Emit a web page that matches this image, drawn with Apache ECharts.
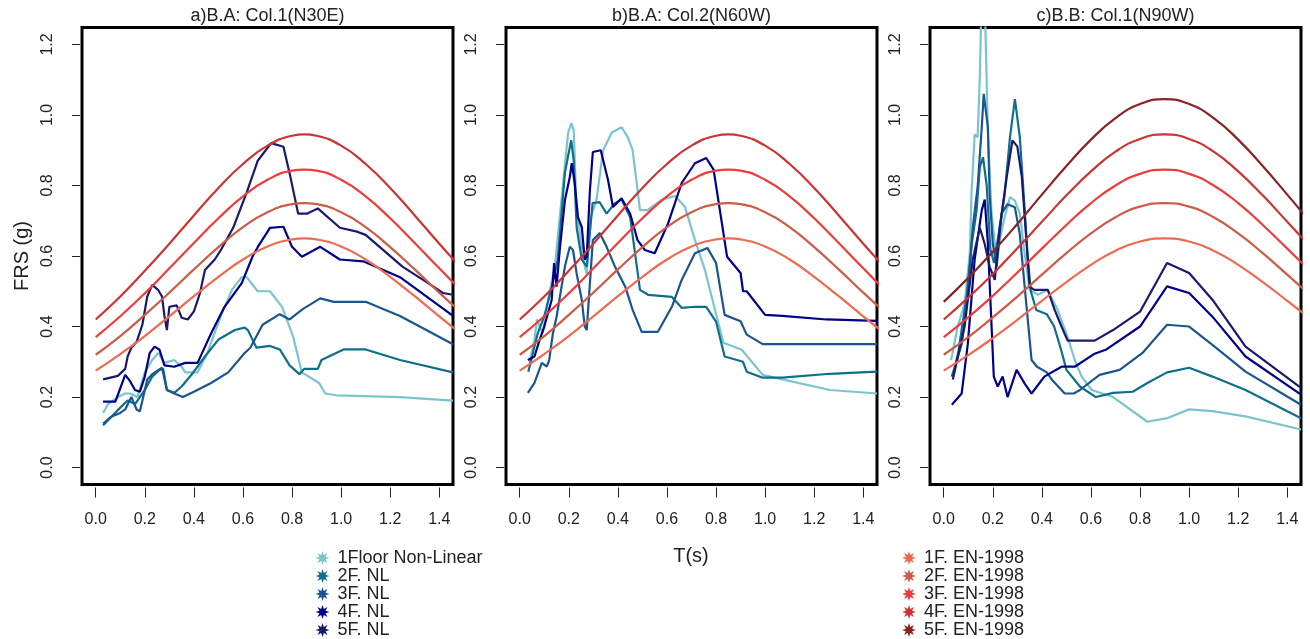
<!DOCTYPE html>
<html><head><meta charset="utf-8">
<script src="https://cdn.jsdelivr.net/npm/echarts@6/dist/echarts.min.js"></script>
<style>html,body{margin:0;padding:0;background:#fff}#c{width:1310px;height:639px}</style>
</head><body><div id="c"></div>
<script>
// ---------- DATA ----------
const titles = ['a)B.A: Col.1(N30E)', 'b)B.A: Col.2(N60W)', 'c)B.B: Col.1(N90W)'];
const xTicks = [0, 0.2, 0.4, 0.6, 0.8, 1.0, 1.2, 1.4];
const yTicks = [0, 0.2, 0.4, 0.6, 0.8, 1.0, 1.2];
const nlNames = ['1Floor Non-Linear', '2F. NL', '3F. NL', '4F. NL', '5F. NL'];
const enNames = ['1F. EN-1998', '2F. EN-1998', '3F. EN-1998', '4F. EN-1998', '5F. EN-1998'];

// Panel a : non-linear floor spectra [T, FRS]
const a_NL1 = [[0.03,0.155],[0.05,0.18],[0.09,0.20],[0.12,0.21],[0.14,0.21],[0.17,0.20],[0.20,0.27],[0.23,0.305],[0.255,0.325],[0.28,0.297],[0.32,0.305],[0.35,0.286],[0.365,0.27],[0.415,0.27],[0.455,0.325],[0.51,0.43],[0.555,0.504],[0.595,0.54],[0.615,0.54],[0.66,0.50],[0.71,0.50],[0.76,0.455],[0.805,0.37],[0.84,0.27],[0.91,0.24],[0.935,0.21],[0.98,0.205],[1.24,0.20],[1.456,0.19]];
const a_NL2 = [[0.03,0.125],[0.065,0.145],[0.10,0.17],[0.13,0.19],[0.16,0.18],[0.20,0.22],[0.23,0.258],[0.26,0.277],[0.275,0.28],[0.29,0.22],[0.32,0.212],[0.35,0.23],[0.39,0.263],[0.445,0.315],[0.50,0.363],[0.567,0.39],[0.607,0.397],[0.62,0.39],[0.655,0.34],[0.71,0.345],[0.75,0.335],[0.79,0.29],[0.83,0.265],[0.85,0.28],[0.905,0.28],[0.92,0.305],[1.01,0.335],[1.10,0.335],[1.24,0.305],[1.456,0.27]];
const a_NL3 = [[0.03,0.12],[0.065,0.145],[0.10,0.155],[0.12,0.165],[0.145,0.20],[0.167,0.164],[0.18,0.16],[0.21,0.25],[0.23,0.265],[0.27,0.283],[0.29,0.22],[0.32,0.21],[0.355,0.20],[0.40,0.215],[0.47,0.24],[0.54,0.27],[0.607,0.325],[0.63,0.34],[0.68,0.405],[0.75,0.435],[0.79,0.42],[0.845,0.45],[0.915,0.48],[0.97,0.47],[1.10,0.47],[1.24,0.43],[1.456,0.35]];
const a_NL4 = [[0.03,0.187],[0.08,0.187],[0.12,0.263],[0.14,0.245],[0.16,0.22],[0.18,0.215],[0.20,0.258],[0.22,0.325],[0.24,0.343],[0.26,0.334],[0.28,0.29],[0.32,0.286],[0.365,0.297],[0.415,0.297],[0.47,0.38],[0.525,0.456],[0.595,0.523],[0.64,0.60],[0.66,0.625],[0.71,0.68],[0.765,0.683],[0.80,0.626],[0.84,0.598],[0.915,0.626],[0.995,0.59],[1.09,0.585],[1.24,0.54],[1.456,0.43]];
const a_NL5 = [[0.03,0.25],[0.09,0.26],[0.12,0.28],[0.13,0.315],[0.145,0.34],[0.167,0.357],[0.19,0.405],[0.21,0.485],[0.23,0.518],[0.255,0.503],[0.27,0.485],[0.28,0.43],[0.29,0.39],[0.30,0.456],[0.33,0.46],[0.35,0.425],[0.375,0.42],[0.40,0.443],[0.425,0.495],[0.445,0.56],[0.465,0.575],[0.485,0.59],[0.51,0.617],[0.56,0.68],[0.615,0.78],[0.66,0.87],[0.715,0.92],[0.765,0.91],[0.79,0.835],[0.825,0.72],[0.86,0.72],[0.905,0.735],[0.995,0.68],[1.06,0.67],[1.10,0.66],[1.25,0.57],[1.35,0.525],[1.415,0.495],[1.456,0.49]];

// Panel b
const b_NL1 = [[0.04,0.297],[0.06,0.362],[0.07,0.42],[0.093,0.38],[0.115,0.475],[0.143,0.57],[0.17,0.76],[0.197,0.948],[0.21,0.977],[0.22,0.957],[0.23,0.76],[0.245,0.665],[0.265,0.57],[0.273,0.55],[0.29,0.71],[0.313,0.76],[0.34,0.90],[0.375,0.95],[0.415,0.965],[0.44,0.937],[0.46,0.90],[0.49,0.73],[0.52,0.73],[0.58,0.76],[0.633,0.77],[0.673,0.74],[0.714,0.645],[0.755,0.56],[0.775,0.504],[0.83,0.354],[0.905,0.334],[0.99,0.263],[1.07,0.25],[1.265,0.22],[1.456,0.21]];
const b_NL2 = [[0.035,0.272],[0.073,0.38],[0.10,0.43],[0.13,0.51],[0.155,0.59],[0.184,0.835],[0.196,0.88],[0.21,0.928],[0.22,0.87],[0.232,0.68],[0.253,0.59],[0.273,0.57],[0.297,0.75],[0.325,0.753],[0.354,0.72],[0.388,0.75],[0.415,0.76],[0.45,0.71],[0.49,0.504],[0.523,0.49],[0.62,0.484],[0.66,0.453],[0.714,0.456],[0.76,0.456],[0.80,0.414],[0.835,0.315],[0.91,0.30],[0.925,0.272],[0.99,0.255],[1.07,0.255],[1.265,0.266],[1.456,0.272]];
const b_NL3 = [[0.033,0.212],[0.06,0.24],[0.09,0.297],[0.11,0.286],[0.12,0.305],[0.135,0.38],[0.15,0.427],[0.184,0.57],[0.204,0.626],[0.217,0.617],[0.232,0.55],[0.253,0.475],[0.265,0.40],[0.273,0.39],[0.286,0.523],[0.298,0.645],[0.326,0.665],[0.354,0.626],[0.388,0.57],[0.43,0.513],[0.46,0.447],[0.497,0.385],[0.563,0.385],[0.62,0.456],[0.66,0.532],[0.714,0.608],[0.765,0.623],[0.80,0.58],[0.835,0.433],[0.90,0.415],[0.925,0.377],[0.99,0.35],[1.456,0.35]];
const b_NL4 = [[0.033,0.305],[0.06,0.315],[0.08,0.36],[0.10,0.40],[0.13,0.475],[0.14,0.58],[0.15,0.513],[0.163,0.617],[0.184,0.758],[0.204,0.824],[0.212,0.863],[0.224,0.807],[0.237,0.71],[0.253,0.682],[0.265,0.59],[0.273,0.597],[0.286,0.787],[0.298,0.895],[0.33,0.90],[0.36,0.815],[0.38,0.739],[0.415,0.764],[0.45,0.72],[0.48,0.645],[0.51,0.617],[0.55,0.608],[0.605,0.693],[0.66,0.807],[0.714,0.863],[0.76,0.878],[0.79,0.845],[0.845,0.598],[0.90,0.552],[0.91,0.50],[0.925,0.50],[1.0,0.433],[1.07,0.43],[1.25,0.42],[1.456,0.416]];

// Panel c
const c_NL1 = [[0.03,0.305],[0.057,0.40],[0.085,0.465],[0.106,0.605],[0.113,0.775],[0.126,0.945],[0.138,0.937],[0.147,1.107],[0.153,1.30],[0.168,1.30],[0.18,0.945],[0.195,0.72],[0.216,0.59],[0.228,0.645],[0.248,0.71],[0.27,0.767],[0.29,0.757],[0.31,0.72],[0.33,0.605],[0.35,0.504],[0.383,0.49],[0.424,0.504],[0.464,0.447],[0.505,0.37],[0.534,0.305],[0.562,0.258],[0.603,0.22],[0.69,0.20],[0.83,0.13],[0.91,0.14],[1.0,0.165],[1.095,0.16],[1.23,0.145],[1.456,0.108]];
const c_NL2 = [[0.037,0.258],[0.06,0.33],[0.094,0.49],[0.114,0.634],[0.134,0.73],[0.147,0.852],[0.16,0.88],[0.175,0.80],[0.19,0.62],[0.205,0.58],[0.228,0.68],[0.248,0.775],[0.27,0.937],[0.29,1.045],[0.31,0.937],[0.322,0.815],[0.342,0.60],[0.355,0.50],[0.377,0.447],[0.42,0.435],[0.45,0.40],[0.48,0.33],[0.50,0.277],[0.555,0.23],[0.62,0.20],[0.69,0.212],[0.77,0.215],[0.83,0.24],[0.91,0.27],[1.0,0.283],[1.095,0.258],[1.23,0.22],[1.456,0.14]];
const c_NL3 = [[0.033,0.258],[0.073,0.35],[0.098,0.49],[0.118,0.68],[0.138,0.795],[0.155,0.965],[0.163,1.06],[0.18,0.965],[0.187,0.775],[0.20,0.634],[0.216,0.57],[0.236,0.72],[0.26,0.747],[0.29,0.738],[0.31,0.662],[0.33,0.512],[0.358,0.305],[0.38,0.286],[0.42,0.27],[0.44,0.25],[0.493,0.21],[0.53,0.21],[0.555,0.22],[0.635,0.263],[0.717,0.277],[0.81,0.325],[0.91,0.405],[1.0,0.40],[1.095,0.348],[1.23,0.272],[1.456,0.178]];
const c_NL4 = [[0.033,0.178],[0.073,0.21],[0.098,0.35],[0.126,0.59],[0.155,0.73],[0.167,0.76],[0.18,0.634],[0.195,0.40],[0.204,0.258],[0.22,0.23],[0.24,0.258],[0.26,0.20],[0.297,0.277],[0.33,0.238],[0.358,0.21],[0.41,0.258],[0.48,0.286],[0.534,0.286],[0.615,0.323],[0.66,0.334],[0.80,0.40],[0.91,0.514],[1.0,0.495],[1.095,0.428],[1.23,0.315],[1.456,0.207]];
const c_NL5 = [[0.037,0.25],[0.085,0.40],[0.118,0.59],[0.147,0.68],[0.167,0.634],[0.187,0.57],[0.208,0.532],[0.228,0.68],[0.257,0.825],[0.28,0.928],[0.30,0.91],[0.318,0.825],[0.338,0.634],[0.35,0.512],[0.37,0.504],[0.424,0.504],[0.452,0.447],[0.48,0.40],[0.505,0.36],[0.562,0.36],[0.615,0.36],[0.69,0.39],[0.80,0.442],[0.91,0.58],[1.0,0.552],[1.095,0.476],[1.23,0.343],[1.456,0.226]];

// EN-1998 floor spectra, panels a & b
const enT_ab = [0,0.1,0.2,0.3,0.4,0.5,0.6,0.7,0.8,0.85,0.9,1.0,1.1,1.2,1.3,1.4,1.5];
const ab_EN1 = [0.275,0.322,0.373,0.429,0.486,0.541,0.590,0.627,0.647,0.65,0.647,0.627,0.590,0.541,0.486,0.429,0.373];
const ab_EN2 = [0.32,0.373,0.433,0.496,0.562,0.625,0.682,0.724,0.747,0.75,0.747,0.724,0.682,0.625,0.562,0.496,0.433];
const ab_EN3 = [0.37,0.429,0.494,0.565,0.637,0.707,0.769,0.816,0.842,0.845,0.842,0.816,0.769,0.707,0.637,0.565,0.494];
const ab_EN4 = [0.42,0.485,0.558,0.635,0.715,0.793,0.861,0.913,0.941,0.945,0.941,0.913,0.861,0.793,0.715,0.635,0.558];
// panel c
const enT_c = [0,0.1,0.2,0.3,0.4,0.5,0.6,0.7,0.8,0.9,1.0,1.1,1.2,1.3,1.4,1.5];
const c_EN1 = [0.275,0.319,0.367,0.419,0.473,0.526,0.575,0.615,0.641,0.65,0.641,0.615,0.575,0.526,0.473,0.419];
const c_EN2 = [0.32,0.370,0.426,0.485,0.547,0.608,0.664,0.710,0.740,0.75,0.740,0.710,0.664,0.608,0.547,0.485];
const c_EN3 = [0.37,0.426,0.487,0.553,0.621,0.688,0.75,0.800,0.833,0.845,0.833,0.800,0.75,0.688,0.621,0.553];
const c_EN4 = [0.42,0.482,0.549,0.622,0.697,0.772,0.84,0.896,0.932,0.945,0.932,0.896,0.84,0.772,0.697,0.622];
const c_EN5 = [0.47,0.538,0.612,0.691,0.774,0.855,0.93,0.991,1.031,1.045,1.031,0.991,0.93,0.855,0.774,0.691];

// ---------- STYLE ----------
const FF = '"Liberation Sans", Arial, Helvetica, sans-serif';
const nlColors = ['#7AC5CD', '#0E6F8A', '#1A5592', '#00008B', '#191970'];
const enColors = ['#EE6A50', '#CD5B45', '#EE3B3B', '#CD3333', '#8B2323'];
const lefts = [82, 506, 930];
const TOP = 27.5, W = 371, H = 457;

// star-shaped legend marker (asterisk-like)
let star = 'path://';
for (let i = 0; i < 16; i++) {
  const ang = -Math.PI / 2 + i * Math.PI / 8;
  const r = (i % 2 === 0) ? 10 : 4.8;
  const px = (10 + r * Math.cos(ang)).toFixed(2), py = (10 + r * Math.sin(ang)).toFixed(2);
  star += (i === 0 ? 'M' : 'L') + px + ',' + py;
}
star += 'Z';

const grids = [], xAxes = [], yAxes = [], series = [];
lefts.forEach((l, i) => {
  grids.push({left: l, top: TOP, width: W, height: H, show: true, borderColor: '#000', borderWidth: 3, backgroundColor: 'transparent', containLabel: false});
  xAxes.push({
    gridIndex: i, type: 'value', position: 'bottom', min: -0.056, max: 1.456, offset: 3,
    axisLine: {show: false, onZero: false}, splitLine: {show: false},
    axisTick: {show: true, inside: false, length: 10, customValues: xTicks, lineStyle: {color: '#222', width: 1}},
    axisLabel: {customValues: xTicks, margin: 24, fontSize: 16, fontFamily: FF, color: '#222', formatter: v => v.toFixed(1)}
  });
  yAxes.push({
    gridIndex: i, type: 'value', position: 'left', min: -0.048, max: 1.248, offset: 2,
    axisLine: {show: false, onZero: false}, splitLine: {show: false},
    axisTick: {show: true, inside: false, length: 8, customValues: yTicks, lineStyle: {color: '#222', width: 1}},
    axisLabel: {customValues: yTicks, rotate: 90, margin: 24, fontSize: 16, fontFamily: FF, color: '#222', formatter: v => v.toFixed(1)}
  });
});

function addLine(name, gi, data, color, smooth) {
  series.push({
    name, type: 'line', xAxisIndex: gi, yAxisIndex: gi, data, showSymbol: false, symbol: 'none',
    smooth: smooth ? 0.5 : false, clip: true, animation: false,
    lineStyle: {color, width: 2.2}, itemStyle: {color}, emphasis: {disabled: true}
  });
}
const nlSets = [[a_NL1, a_NL2, a_NL3, a_NL4, a_NL5], [b_NL1, b_NL2, b_NL3, b_NL4], [c_NL1, c_NL2, c_NL3, c_NL4, c_NL5]];
nlSets.forEach((set, gi) => set.forEach((d, k) => addLine(nlNames[k], gi, d, nlColors[k], false)));
const enSets = [
  [enT_ab, [ab_EN1, ab_EN2, ab_EN3, ab_EN4]],
  [enT_ab, [ab_EN1, ab_EN2, ab_EN3, ab_EN4]],
  [enT_c, [c_EN1, c_EN2, c_EN3, c_EN4, c_EN5]]
];
enSets.forEach(([tt, set], gi) => set.forEach((vals, k) => addLine(enNames[k], gi, tt.map((t, j) => [t, vals[j]]), enColors[k], true)));

const txt = (text, x, y, size, rot) => ({
  type: 'text', x, y, rotation: rot || 0, silent: true,
  style: {text, fontSize: size, fontFamily: FF, fill: '#222', align: 'center', verticalAlign: 'middle', textAlign: 'center', textVerticalAlign: 'middle'}
});

const legendBase = {
  orient: 'vertical', top: 549, itemWidth: 20, itemHeight: 14, itemGap: 0, icon: star,
  selectedMode: false, padding: 0,
  textStyle: {fontSize: 18, lineHeight: 17, fontFamily: FF, color: '#222'}
};

const chart = echarts.init(document.getElementById('c'), null, {renderer: 'canvas'});
chart.setOption({
  animation: false,
  backgroundColor: '#fff',
  grid: grids, xAxis: xAxes, yAxis: yAxes, series,
  legend: [
    Object.assign({}, legendBase, {left: 315.5, data: nlNames}),
    Object.assign({}, legendBase, {left: 902, data: enNames})
  ],
  graphic: [
    txt(titles[0], 267.5, 16, 18), txt(titles[1], 691.5, 16, 18), txt(titles[2], 1115.5, 16, 18),
    txt('FRS (g)', 22, 256, 20, Math.PI / 2),
    txt('T(s)', 691, 556, 20)
  ]
});
</script></body></html>
